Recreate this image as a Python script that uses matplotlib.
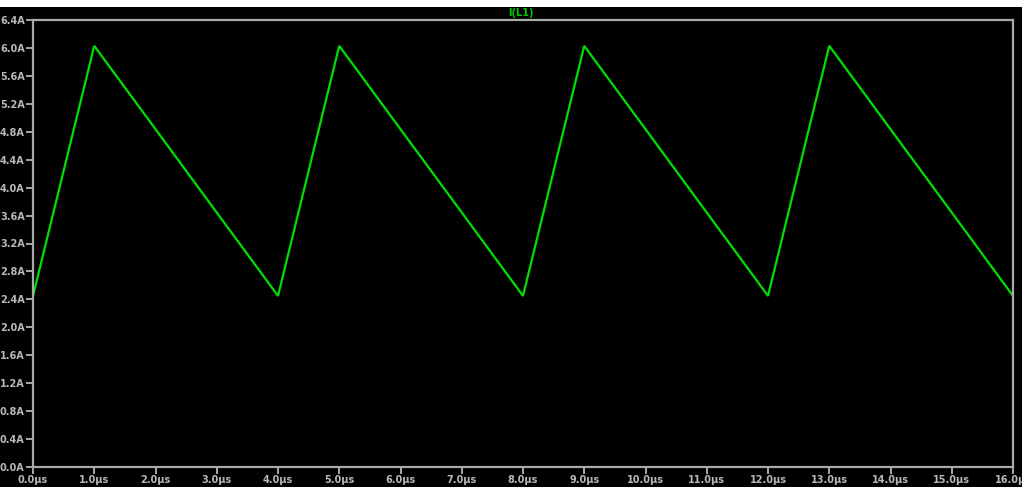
import matplotlib
matplotlib.use("Agg")
import matplotlib.pyplot as plt
from matplotlib.patches import Rectangle

# Inductor current waveform I(L1): vertices of the triangular ripple
time_us = [0.0, 1.0, 4.0, 5.0, 8.0, 9.0, 12.0, 13.0, 16.0]
current_a = [2.45, 6.03, 2.45, 6.03, 2.45, 6.03, 2.45, 6.03, 2.45]

x_ticks = [float(v) for v in range(0, 17)]
x_labels = [f"{v:.1f}\u00b5s" for v in x_ticks]
y_ticks = [round(0.4 * i, 1) for i in range(0, 17)]
y_labels = [f"{v:.1f}A" for v in y_ticks]

W, H = 1022, 487
fig = plt.figure(figsize=(W / 100, H / 100), dpi=100, facecolor="black")
fig.patches.append(Rectangle((0, 1 - 7 / H), 1, 7 / H, transform=fig.transFigure,
                             facecolor="white", edgecolor="none", zorder=0))

left, right, top, bottom = 33, 1013, 20, 467
ax = fig.add_axes([left / W, 1 - bottom / H, (right - left) / W, (bottom - top) / H])
ax.set_facecolor("black")

ax.plot(time_us, current_a, color="#00e000", lw=1.6, solid_joinstyle="miter")

ax.set_xlim(0, 16)
ax.set_ylim(0, 6.4)
ax.set_xticks(x_ticks, x_labels)
ax.set_yticks(y_ticks, y_labels)

grey = "#a8a8a8"
for s in ax.spines.values():
    s.set_color(grey)
    s.set_linewidth(1.6)
ax.tick_params(colors=grey, labelcolor="#b8b8b8", length=5, width=1.4,
               labelsize=7, pad=1)
for lab in ax.get_xticklabels() + ax.get_yticklabels():
    lab.set_fontweight("bold")

fig.text(521 / W, 1 - 13 / H, "I(L1)", color="#00c800", fontsize=7,
         fontweight="bold", ha="center", va="center")

fig.savefig("out.png", dpi=100, facecolor="black")
